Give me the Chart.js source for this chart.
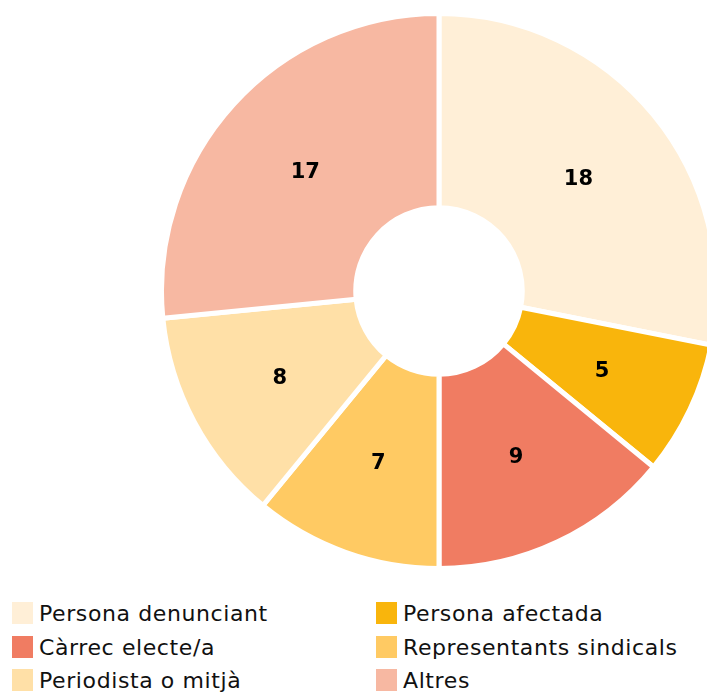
<!DOCTYPE html>
<html>
<head>
<meta charset="utf-8">
<script src="https://cdn.jsdelivr.net/npm/chart.js@4.4.1/dist/chart.umd.min.js"></script>
<style>
    html, body { margin: 0; padding: 0; background: #fff; overflow: hidden; width: 707px; height: 693px; }
    #wrap { position: absolute; left: 159px; top: 11px; width: 560px; height: 560px; }
    #legend { position: absolute; left: 12px; top: 602px; width: 700px; font-family: "DejaVu Sans", sans-serif; font-size: 22px; letter-spacing: 0.6px; color: #111; }
    .item { position: absolute; height: 24px; line-height: 24px; white-space: nowrap; }
    .item span.box { display: inline-block; width: 21px; height: 22px; vertical-align: top; margin-right: 6px; }
</style>
</head>
<body>
<div id="wrap"><canvas id="donutchart"></canvas></div>
<div id="legend"></div>
<script>
"use strict";

var categories = ['Persona denunciant', 'Persona afectada', 'Càrrec electe/a', 'Representants sindicals', 'Periodista o mitjà', 'Altres'];
var values = [18, 5, 9, 7, 8, 17];
var colors = ['#FFEFD7', '#F9B50C', '#F07C62', '#FFCA63', '#FFE0A7', '#F7B8A2'];
// legend order: two columns, read row by row
var legendOrder = [0, 1, 2, 3, 4, 5];

document.addEventListener("DOMContentLoaded", function () {
    /* value labels in the middle of each slice */
    var sliceLabels = {
        id: 'sliceLabels',
        afterDatasetsDraw: function (chart) {
            var ctx = chart.ctx;
            var meta = chart.getDatasetMeta(0);
            ctx.save();
            ctx.font = 'bold 21px "DejaVu Sans", sans-serif';
            ctx.fillStyle = '#000';
            ctx.textAlign = 'center';
            ctx.textBaseline = 'middle';
            meta.data.forEach(function (arc, i) {
                var p = arc.tooltipPosition();
                ctx.fillText(String(values[i]), p.x, p.y + 3);
            });
            ctx.restore();
        }
    };

    var donut = document.getElementById('donutchart').getContext('2d');

    var donutConfig = {
        type: 'doughnut',
        data: {
            labels: categories,
            datasets: [{
                data: values,
                backgroundColor: colors,
                borderColor: '#ffffff',
                borderWidth: 5,
            }]
        },
        options: {
            animation: false,
            responsive: true,
            maintainAspectRatio: false,
            cutout: '30%',
            layout: { padding: 0 },
            plugins: {
                legend: { display: false },
                tooltip: { enabled: false },
            }
        },
        plugins: [sliceLabels]
    }
    var myDonut = new Chart(donut, donutConfig);

    /* html legend, two columns */
    var legend = document.getElementById('legend');
    legendOrder.forEach(function (idx, n) {
        var col = n % 2, row = Math.floor(n / 2);
        var item = document.createElement('div');
        item.className = 'item';
        item.style.left = (col * 364) + 'px';
        item.style.top = (row * 33.5) + 'px';
        item.innerHTML = '<span class="box" style="background:' + colors[idx] + '"></span>' + categories[idx];
        legend.appendChild(item);
    });
})
</script>
</body>
</html>
